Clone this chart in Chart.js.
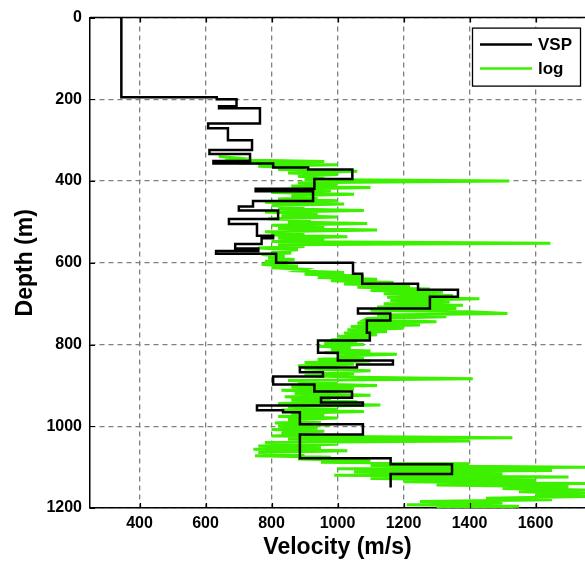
<!DOCTYPE html>
<html>
<head>
<meta charset="utf-8">
<script src="https://cdn.jsdelivr.net/npm/chart.js@4/dist/chart.umd.min.js"></script>
<style>
  html, body { margin: 0; padding: 0; background: #fff; }
  #wrap { width: 585px; height: 562px; }
</style>
</head>
<body>
<div id="wrap"><canvas id="c" width="585" height="562"></canvas></div>
<script>
// Interval velocities from the VSP survey: layer top depth (m) and velocity (m/s)
const vspTops = [0, 195, 200, 217, 222, 259, 271, 300, 324, 334, 351, 357, 367, 372, 395, 419, 425, 449, 462, 472,
  493, 505, 534, 540, 554, 565, 571, 578, 600, 627, 651, 666, 683, 712, 724, 741, 771, 790, 820, 839,
  849, 856, 868, 878, 898, 915, 930, 942, 949, 961, 966, 995, 1020, 1078, 1093, 1117];
const vspVel = [345, 634, 694, 641, 765, 608, 668, 741, 612, 735, 624, 805, 911, 1045, 930, 752, 926, 744, 701, 820,
  671, 756, 805, 770, 690, 760, 632, 814, 1047, 1075, 1244, 1365, 1280, 1062, 1160, 1089, 1098, 941, 1001, 1168,
  1059, 886, 956, 805, 930, 1044, 950, 1077, 756, 835, 886, 1077, 886, 1161, 1347, 1161];
const vspBottom = 1150;

// Sonic log velocity (m/s) sampled every 4 m from 340 m to 1200 m (ten samples per row)
const logStart = 340;
const logStep = 4;
const logVel = [
  640, 700, 660, 960, 700, 1000, 760, 900, 820, 1060,      // 340
  850, 1000, 880, 960, 900, 1520, 880, 1000, 860, 1100,    // 380
  840, 980, 800, 1050, 860, 940, 820, 1000, 780, 1020,     // 420
  800, 900, 820, 1080, 780, 940, 830, 1000, 790, 920,      // 460
  850, 1090, 800, 960, 820, 1120, 780, 900, 800, 1030,     // 500
  820, 960, 800, 1645, 820, 900, 760, 880, 800, 860,       // 540
  770, 840, 790, 870, 780, 850, 770, 880, 800, 900,        // 580
  880, 1020, 900, 1080, 940, 1120, 980, 1170, 1020, 1220,  // 620
  1060, 1280, 1100, 1320, 1140, 1350, 1150, 1430, 1160, 1340, // 660
  1140, 1380, 1120, 1360, 1100, 1400, 1515, 1120, 1330, 1090, // 700
  1080, 1300, 1060, 1250, 1040, 1200, 1030, 1150, 1020, 1120, // 740
  1000, 1100, 980, 1060, 960, 1080, 940, 1040, 980, 1100,  // 780
  960, 1180, 1000, 1080, 940, 1100, 900, 1050, 880, 1000,  // 820
  900, 1100, 960, 1050, 900, 1060, 1410, 850, 1000, 880,   // 860
  1120, 860, 1050, 830, 1000, 870, 1100, 840, 980, 860,    // 900
  1060, 820, 1130, 850, 1000, 830, 1080, 860, 960, 820,    // 940
  1000, 850, 950, 810, 980, 820, 940, 800, 960, 830,       // 980
  900, 800, 1530, 850, 1400, 780, 1000, 760, 950, 745,     // 1020
  1030, 760, 900, 750, 980, 880, 1100, 950, 1400, 1100,    // 1060
  1750, 1000, 1650, 1050, 1500, 990, 1700, 1100, 1600, 1200, // 1100
  1750, 1300, 1700, 1500, 1750, 1550, 1750, 1600, 1750, 1450, // 1140
  1650, 1250, 1500, 1210, 1550, 1300                        // 1180
];

// Axis ticks
const depthTicks = [0, 200, 400, 600, 800, 1000, 1200];
const velocityTicks = [400, 600, 800, 1000, 1200, 1400, 1600];

// Series labels and colours
const seriesNames = ['VSP', 'log'];
const seriesColors = ['#000000', '#3cf000'];

// Build the stepped VSP profile from the layer tables
const vspPoints = [];
for (let i = 0; i < vspTops.length; i++) {
  const top = vspTops[i];
  const bot = i + 1 < vspTops.length ? vspTops[i + 1] : vspBottom;
  vspPoints.push({ x: vspVel[i], y: top });
  vspPoints.push({ x: vspVel[i], y: bot });
}
const logPoints = logVel.map((v, i) => ({ x: v, y: logStart + i * logStep }));

const FONT = "'Liberation Sans', Arial, Helvetica, sans-serif";

// Frame, inward tick marks and boxed legend
const framePlugin = {
  id: 'frame',
  afterDraw(chart) {
    const { ctx, chartArea: a, scales } = chart;
    ctx.save();
    ctx.strokeStyle = '#000';
    ctx.lineWidth = 1.5;
    ctx.beginPath();
    ctx.moveTo(a.left, a.top);
    ctx.lineTo(a.right, a.top);
    ctx.stroke();
    ctx.lineWidth = 1.2;
    ctx.beginPath();
    scales.y.ticks.forEach(t => {
      const py = Math.round(scales.y.getPixelForValue(t.value)) + 0.5;
      ctx.moveTo(a.left, py); ctx.lineTo(a.left + 5, py);
    });
    scales.x.ticks.forEach(t => {
      const px = Math.round(scales.x.getPixelForValue(t.value)) + 0.5;
      ctx.moveTo(px, a.bottom); ctx.lineTo(px, a.bottom - 5);
      ctx.moveTo(px, a.top); ctx.lineTo(px, a.top + 5);
    });
    ctx.stroke();

    // legend
    const bx = a.right - 113, by = a.top + 10, bw = 108, bh = 58;
    ctx.fillStyle = '#fff';
    ctx.fillRect(bx, by, bw, bh);
    ctx.strokeStyle = '#000';
    ctx.lineWidth = 1.3;
    ctx.strokeRect(bx + 0.5, by + 0.5, bw, bh);
    chart.data.datasets.forEach((d, i) => {
      const ly = by + 17 + i * 24;
      ctx.strokeStyle = d.borderColor;
      ctx.lineWidth = 2.5;
      ctx.beginPath();
      ctx.moveTo(bx + 8, ly);
      ctx.lineTo(bx + 60, ly);
      ctx.stroke();
      ctx.fillStyle = '#000';
      ctx.font = 'bold 17px ' + FONT;
      ctx.textBaseline = 'middle';
      ctx.textAlign = 'left';
      ctx.fillText(d.label, bx + 66, ly + 1);
    });
    ctx.restore();
  }
};

new Chart(document.getElementById('c'), {
  type: 'scatter',
  data: {
    datasets: [
      {
        label: seriesNames[0],
        data: vspPoints,
        showLine: true,
        borderColor: seriesColors[0],
        borderWidth: 2.5,
        pointRadius: 0,
        tension: 0,
        fill: false
      },
      {
        label: seriesNames[1],
        data: logPoints,
        showLine: true,
        borderColor: seriesColors[1],
        borderWidth: 3,
        pointRadius: 0,
        tension: 0,
        fill: false
      }
    ]
  },
  options: {
    responsive: false,
    devicePixelRatio: 1,
    animation: false,
    layout: { padding: { top: 16, right: 0, bottom: 0, left: 0 } },
    plugins: { legend: { display: false }, tooltip: { enabled: false } },
    scales: {
      x: {
        type: 'linear',
        position: 'bottom',
        min: 250,
        max: 1750,
        afterBuildTicks: s => { s.ticks = velocityTicks.map(v => ({ value: v })); },
        afterFit: s => { s.height = 54; },
        ticks: {
          color: '#000',
          padding: 6,
          maxRotation: 0,
          font: { family: FONT, size: 16, weight: 'bold' },
          callback: v => String(v)
        },
        grid: { color: '#7f7f7f', lineWidth: 1.3, drawTicks: false },
        border: { display: true, color: '#000', width: 1.5, dash: [5, 4] },
        title: {
          display: true,
          text: 'Velocity (m/s)',
          color: '#000',
          font: { family: FONT, size: 23, weight: 'bold', lineHeight: 1.2 },
          padding: { top: 0, bottom: 1 }
        }
      },
      y: {
        type: 'linear',
        reverse: true,
        min: 0,
        max: 1200,
        afterBuildTicks: s => { s.ticks = depthTicks.map(v => ({ value: v })); },
        afterFit: s => { s.width = 90; },
        ticks: {
          color: '#000',
          padding: 8,
          font: { family: FONT, size: 16, weight: 'bold' },
          callback: v => String(v)
        },
        grid: { color: '#7f7f7f', lineWidth: 1.3, drawTicks: false },
        border: { display: true, color: '#000', width: 1.5, dash: [5, 4] },
        title: {
          display: true,
          text: 'Depth (m)',
          color: '#000',
          font: { family: FONT, size: 23, weight: 'bold', lineHeight: 1.2 },
          padding: { top: 12, bottom: 0 }
        }
      }
    }
  },
  plugins: [framePlugin]
});
</script>
</body>
</html>
